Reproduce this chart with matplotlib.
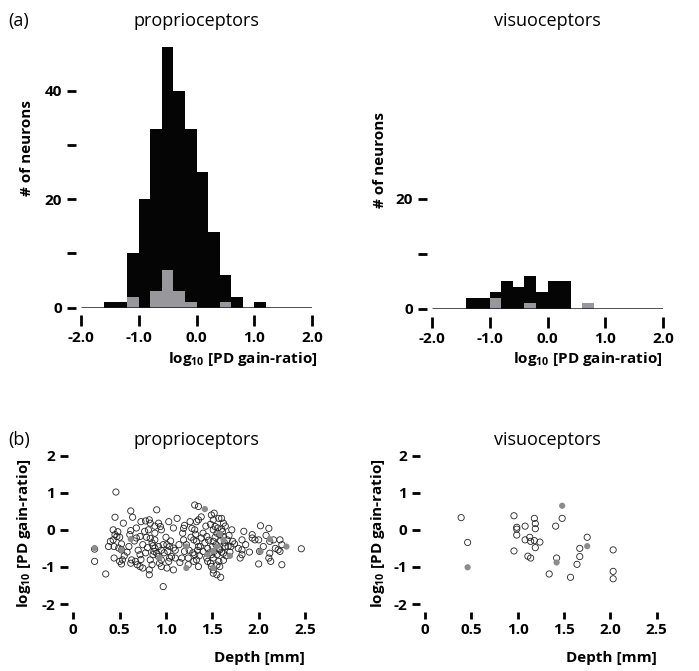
import matplotlib
matplotlib.use("Agg")
import matplotlib.pyplot as plt
import numpy as np

plt.rcParams['font.family'] = ['Open Sans', 'DejaVu Sans']
plt.rcParams['mathtext.fontset'] = 'custom'
plt.rcParams['mathtext.rm'] = 'Open Sans'
plt.rcParams['mathtext.bf'] = 'Open Sans:bold'

# ---------------- data ----------------
bin_edges = [-1.6, -1.4, -1.2, -1.0, -0.8, -0.6, -0.4, -0.2, 0.0, 0.2, 0.4, 0.6, 0.8, 1.0, 1.2]
prop_all = [1, 1, 10, 20, 33, 48, 40, 33, 25, 14, 6, 2, 0, 1]
prop_sub = [0, 0, 2, 0, 3, 7, 3, 1, 0, 0, 1, 0, 0, 0]
visu_all = [0, 2, 2, 3, 5, 4, 6, 3, 5, 5, 0, 0, 0, 0]
visu_sub = [0, 0, 0, 2, 0, 0, 1, 0, 0, 0, 0, 1, 0, 0]

hist_xticks = [-2.0, -1.0, 0.0, 1.0, 2.0]
hist_xticklabels = ['-2.0', '-1.0', '0.0', '1.0', '2.0']
depth_ticks = [0, 0.5, 1.0, 1.5, 2.0, 2.5]
depth_ticklabels = ['0', '0.5', '1.0', '1.5', '2.0', '2.5']
ratio_ticks = [-2, -1, 0, 1, 2]
ratio_ticklabels = ['-2', '-1', '0', '1', '2']

prop_depth = [0.46, 0.23, 0.23, 0.35, 0.45, 0.43, 0.45, 0.47, 0.50, 0.43, 0.40, 0.38, 0.44, 0.49, 0.52,
              0.44, 0.50, 0.52, 0.53, 0.62, 0.64, 0.54, 0.62, 0.61, 0.60, 0.63, 0.67, 0.69, 0.72, 0.75,
              0.72, 0.68, 0.72, 0.73, 0.78, 0.82, 0.83, 0.81, 0.77, 0.79, 0.83, 0.88, 0.86, 0.88, 0.92,
              0.90, 0.86, 0.83, 0.85, 0.82, 0.82, 0.90, 0.92, 0.94, 0.88, 0.97, 0.95, 0.97, 1.01, 1.03,
              1.04, 1.08, 1.06, 1.04, 1.10, 1.03, 0.95, 0.95, 1.01, 1.08, 1.12, 1.19, 1.18, 1.19, 1.17,
              1.24, 1.24, 1.26, 1.28, 1.31, 1.35, 1.33, 1.35, 1.31, 1.30, 1.33, 1.35, 1.31, 1.33, 1.35,
              1.37, 1.40, 1.44, 1.44, 1.48, 1.49, 1.51, 1.51, 1.55, 1.49, 1.51, 1.57, 1.60, 1.62, 1.53,
              1.51, 1.55, 1.58, 1.62, 1.51, 1.58, 1.62, 1.55, 1.49, 1.51, 1.57, 1.58, 1.59, 1.66, 1.64,
              1.67, 1.71, 1.72, 1.70, 1.60, 1.82, 1.84, 1.82, 1.82, 1.80, 1.93, 1.96, 2.00, 1.93, 2.02,
              2.01, 2.00, 2.11, 2.12, 2.11, 2.13, 2.12, 2.16, 2.23, 2.25, 2.21, 2.23, 2.25, 2.46,
              0.48, 0.52, 0.58, 0.66, 0.70, 0.75, 0.78, 0.80, 0.85, 0.87, 0.92, 0.95, 0.98, 1.00, 1.02,
              1.05, 1.10, 1.14, 1.20, 1.22, 1.25, 1.27, 1.29, 1.32, 1.34, 1.36, 1.38, 1.40, 1.42, 1.43,
              1.45, 1.46, 1.47, 1.48, 1.50, 1.52, 1.53, 1.54, 1.56, 1.57, 1.59, 1.60, 1.61, 1.63, 1.64,
              1.65, 1.68, 1.69, 1.74, 1.78, 1.86, 1.90, 2.05, 2.08, 2.18, 0.55, 0.62, 0.68, 0.73, 0.88,
              0.93, 1.08, 1.15, 1.30, 1.45, 1.55, 1.62, 1.20, 1.38, 1.52]
prop_ratio = [1.02, -0.52, -0.85, -1.19, 0.34, 0.00, -0.13, -0.18, -0.20, -0.27, -0.31, -0.45, -0.45, -0.49, -0.54,
              -0.76, -0.85, -0.92, -0.81, 0.51, 0.34, 0.18, -0.02, -0.13, -0.45, -0.81, -0.85, -0.94, -0.99, -1.03,
              -0.67, -0.22, -0.18, 0.22, 0.24, 0.27, 0.18, 0.00, -0.04, -0.20, -0.23, -0.27, -0.43, -0.49, -0.45,
              -0.63, -0.67, -0.81, -0.94, -1.08, -1.21, 0.54, 0.18, 0.09, -0.09, -1.53, 0.00, -0.40, -0.40, 0.22,
              -0.45, -0.49, -0.72, -0.76, -0.76, -0.85, -0.81, -0.99, -1.03, -1.08, 0.31, 0.04, -0.09, -0.27, -0.76,
              -0.76, -0.94, 0.22, 0.04, 0.67, 0.63, 0.22, 0.27, 0.00, -0.27, -0.31, -0.45, -0.67, -0.81, -0.99,
              -0.45, -0.09, -0.18, -0.76, -0.90, -0.99, -1.08, -1.17, -1.21, 0.40, 0.27, 0.31, 0.31, 0.18, 0.09,
              0.00, -0.09, -0.13, -0.18, -0.31, -0.54, -0.63, -0.67, -0.67, -0.76, -0.85, -0.99, -1.28, -0.27, -0.45,
              -0.45, 0.00, -0.31, -0.45, 0.02, -0.27, -0.04, -0.54, -0.67, -0.76, -0.13, -0.27, -0.27, -0.22, 0.11,
              -0.58, -0.92, 0.04, -0.31, -0.76, -0.85, -0.63, -0.27, -0.27, -0.40, -0.54, -0.58, -0.94, -0.51,
              -0.05, -0.38, -0.60, -0.30, -0.55, -0.40, -0.62, -0.48, -0.35, -0.58, -0.72, -0.55, -0.62, -0.20, -0.58,
              -0.30, -0.55, -0.40, -0.58, -0.40, -0.55, -0.20, -0.62, -0.12, -0.55, -0.70, -0.22, -0.58, -0.35, 0.10,
              -0.50, -0.28, -0.62, 0.15, -0.45, -0.58, -0.20, -0.40, 0.05, -0.50, -0.30, -0.60, -0.05, -0.35, 0.10,
              -0.70, -0.15, -0.60, -0.38, -0.50, -0.40, -0.60, -0.45, -0.15, -0.50, -0.70, -0.90, 0.05, -0.80, 0.10,
              -0.90, 0.05, -0.88, -0.85, -0.85, -0.95, -0.82, 0.12, 0.35, 0.45]
prop_sub_depth = [0.23, 0.52, 0.62, 0.93, 1.22, 1.22, 1.42, 1.45, 1.51, 1.51, 1.55, 1.62, 1.69, 2.02, 2.12, 2.30, 1.58]
prop_sub_ratio = [-0.49, -0.54, -0.25, -0.75, -0.45, -1.03, 0.56, -0.67, -0.57, -1.03, -0.45, -0.27, -0.70, -0.58, -0.25, -0.45, -0.11]

visu_depth = [0.39, 0.46, 0.96, 0.99, 0.99, 0.99, 0.96, 1.08, 1.08, 1.13, 1.14, 1.18, 1.19, 1.19, 1.18,
              1.24, 1.19, 1.11, 1.14, 1.41, 1.48, 1.42, 1.34, 1.57, 1.67, 1.67, 1.64, 1.75, 2.03, 2.03, 2.03]
visu_ratio = [0.33, -0.34, 0.38, 0.07, 0.02, -0.14, -0.57, 0.10, -0.27, -0.20, -0.31, 0.31, 0.17, 0.03, -0.29,
              -0.33, -0.48, -0.71, -0.76, 0.10, 0.31, -0.76, -1.19, -1.28, -0.50, -0.72, -0.93, -0.20, -0.54, -1.12, -1.32]
visu_sub_depth = [0.46, 1.48, 1.42, 1.75]
visu_sub_ratio = [-1.01, 0.65, -0.88, -0.44]

BLACK = '#050505'
GRAY = '#98989c'
DOT_GRAY = '#8c8c8c'
TICK_FS = 11
LABEL_FS = 11

W, H = 699, 671
fig = plt.figure(figsize=(W / 100, H / 100), dpi=100)


def box(x0, y0, x1, y1):
    return [x0 / W, 1 - y1 / H, (x1 - x0) / W, (y1 - y0) / H]


def fpos(x, y):
    return (x / W, 1 - y / H)


def style_axes(ax, xout, xlen, yout, ylen, ypad):
    for s in ['top', 'right']:
        ax.spines[s].set_visible(False)
    ax.spines['bottom'].set_position(('outward', xout))
    ax.spines['left'].set_position(('outward', yout))
    ax.spines['bottom'].set_color('none')
    ax.spines['left'].set_color('none')
    ax.tick_params(axis='x', direction='out', length=xlen, width=2.0, color='black',
                   labelsize=TICK_FS, pad=3)
    ax.tick_params(axis='y', direction='out', length=ylen, width=2.0, color='black',
                   labelsize=TICK_FS, pad=ypad)
    for lab in ax.get_xticklabels() + ax.get_yticklabels():
        lab.set_fontweight('bold')
    ax.patch.set_visible(False)


def histo(ax, counts_all, counts_sub, yticks, yticklabels):
    edges = np.array(bin_edges)
    widths = np.diff(edges)
    ax.bar(edges[:-1], counts_all, width=widths, align='edge', color=BLACK, linewidth=0)
    ax.bar(edges[:-1], counts_sub, width=widths, align='edge', color=GRAY, linewidth=0)
    ax.plot([-2.0, 2.0], [0, 0], color='#1a1a1a', lw=1.8, solid_capstyle='butt', zorder=3)
    ax.set_xlim(-2.0, 2.0)
    ax.set_ylim(0, 50)
    ax.set_xticks(hist_xticks)
    ax.set_xticklabels(hist_xticklabels)
    ax.set_yticks(yticks)
    ax.set_yticklabels(yticklabels)
    style_axes(ax, 5.5, 8, 3.4, 6.5, 3.5)


def scat(ax, d, r, ds, rs):
    ax.scatter(d, r, s=20, facecolors='none', edgecolors='#222222', linewidths=0.6, clip_on=False, zorder=2)
    ax.scatter(ds, rs, s=20, facecolors=DOT_GRAY, edgecolors='none', clip_on=False, zorder=3)
    ax.set_xlim(0, 2.5)
    ax.set_ylim(-2, 2)
    ax.set_xticks(depth_ticks)
    ax.set_xticklabels(depth_ticklabels)
    ax.set_yticks(ratio_ticks)
    ax.set_yticklabels(ratio_ticklabels)
    style_axes(ax, 5.5, 5, 3.6, 6, 3.5)


ax1 = fig.add_axes(box(80.7, 36.4, 312.3, 307.7))
histo(ax1, prop_all, prop_sub, [0, 10, 20, 30, 40], ['0', '', '20', '', '40'])
ax2 = fig.add_axes(box(431.7, 34, 663.3, 309))
histo(ax2, visu_all, visu_sub, [0, 10, 20], ['0', '', '20'])

ax3 = fig.add_axes(box(73.3, 455.7, 305, 604))
scat(ax3, prop_depth, prop_ratio, prop_sub_depth, prop_sub_ratio)
ax4 = fig.add_axes(box(425, 455.7, 656.7, 604))
scat(ax4, visu_depth, visu_ratio, visu_sub_depth, visu_sub_ratio)

# titles and panel letters
fig.text(*fpos(8, 21), '(a)', fontsize=13, ha='left', va='center')
fig.text(*fpos(8, 440), '(b)', fontsize=13, ha='left', va='center')
fig.text(*fpos(196, 21), 'proprioceptors', fontsize=13, ha='center', va='center')
fig.text(*fpos(547, 21), 'visuoceptors', fontsize=13, ha='center', va='center')
fig.text(*fpos(196, 440), 'proprioceptors', fontsize=13, ha='center', va='center')
fig.text(*fpos(547, 440), 'visuoceptors', fontsize=13, ha='center', va='center')

ratio_label = r'log$_{\mathbf{10}}$ [PD gain-ratio]'
# axis labels
fig.text(*fpos(27, 148), '# of neurons', fontsize=LABEL_FS, fontweight='bold', rotation=90, ha='center', va='center')
fig.text(*fpos(380, 160), '# of neurons', fontsize=LABEL_FS, fontweight='bold', rotation=90, ha='center', va='center')
fig.text(*fpos(318, 359), ratio_label, fontsize=LABEL_FS, fontweight='bold', ha='right', va='center')
fig.text(*fpos(663, 359), ratio_label, fontsize=LABEL_FS, fontweight='bold', ha='right', va='center')
fig.text(*fpos(24, 533), ratio_label, fontsize=LABEL_FS, fontweight='bold', rotation=90, ha='center', va='center')
fig.text(*fpos(378, 533), ratio_label, fontsize=LABEL_FS, fontweight='bold', rotation=90, ha='center', va='center')
fig.text(*fpos(305, 658), 'Depth [mm]', fontsize=LABEL_FS, fontweight='bold', ha='right', va='center')
fig.text(*fpos(657, 658), 'Depth [mm]', fontsize=LABEL_FS, fontweight='bold', ha='right', va='center')

fig.savefig('out.png', dpi=100)
